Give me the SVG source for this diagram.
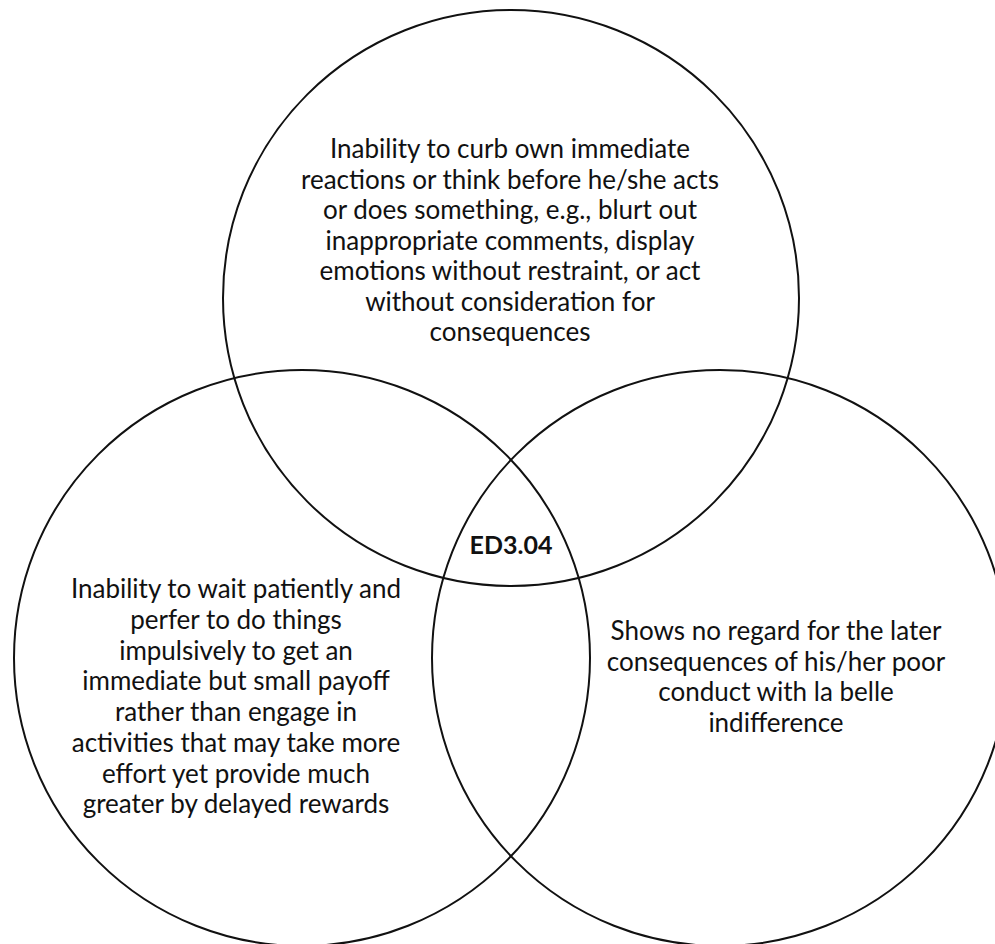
<svg xmlns="http://www.w3.org/2000/svg" width="995" height="944" viewBox="0 0 995 944">
<style>
.c{fill:none;stroke:#111;stroke-width:2}
.t{font-family:Lato,"Open Sans","Liberation Sans",sans-serif;font-size:26px;fill:#111;text-anchor:middle}
.b{font-family:Lato,"Open Sans","Liberation Sans",sans-serif;font-weight:bold;font-size:25px;fill:#111;text-anchor:middle}
</style>
<rect width="995" height="944" fill="#fff"/>
<g id="circle-top">
<circle class="c" cx="511" cy="298" r="288"/>
<text class="t"><tspan x="510" y="158">Inability to curb own immediate</tspan><tspan x="510" y="188.5">reactions or think before he/she acts</tspan><tspan x="510" y="219">or does something, e.g., blurt out</tspan><tspan x="510" y="249.5">inappropriate comments, display</tspan><tspan x="510" y="280">emotions without restraint, or act</tspan><tspan x="510" y="310.5">without consideration for</tspan><tspan x="510" y="341">consequences</tspan></text>
</g>
<g id="circle-left">
<circle class="c" cx="302" cy="658" r="288"/>
<text class="t"><tspan x="236" y="598.3">Inability to wait patiently and</tspan><tspan x="236" y="629">perfer to do things</tspan><tspan x="236" y="659.7">impulsively to get an</tspan><tspan x="236" y="690.4">immediate but small payoff</tspan><tspan x="236" y="721.1">rather than engage in</tspan><tspan x="236" y="751.8">activities that may take more</tspan><tspan x="236" y="782.5">effort yet provide much</tspan><tspan x="236" y="813.2">greater by delayed rewards</tspan></text>
</g>
<g id="circle-right">
<circle class="c" cx="720" cy="658" r="288"/>
<text class="t"><tspan x="776" y="640">Shows no regard for the later</tspan><tspan x="776" y="670.7">consequences of his/her poor</tspan><tspan x="776" y="701.4">conduct with la belle</tspan><tspan x="776" y="732.1">indifference</tspan></text>
</g>
<g id="center-label">
<text class="b" x="511" y="554">ED3.04</text>
</g>
<g id="connectors"></g>
</svg>
